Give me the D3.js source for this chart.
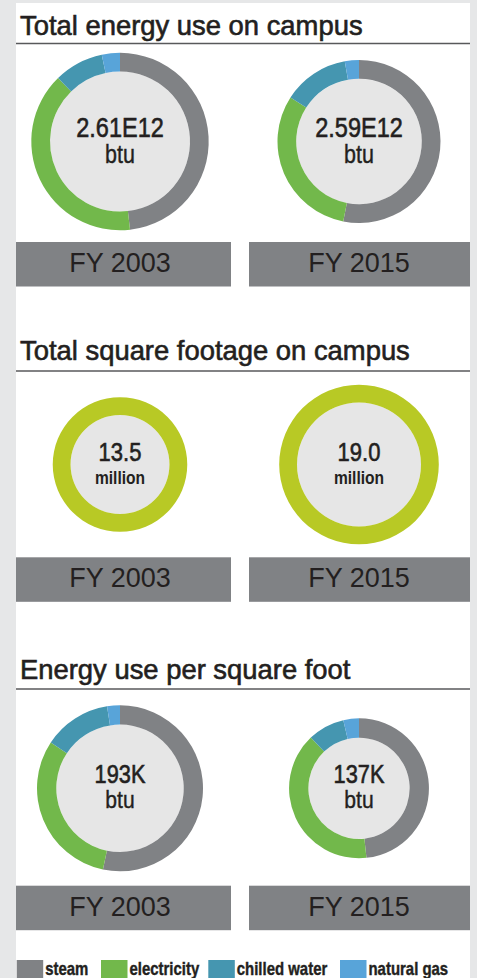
<!DOCTYPE html>
<html>
<head>
<meta charset="utf-8">
<script src="https://cdn.jsdelivr.net/npm/d3@7"></script>
<style>
  body { margin: 0; background: #e6e7e8; }
  svg { display: block; }
</style>
</head>
<body>
<script>
// data
const years = ["FY 2003", "FY 2015"];
const sources = ["steam", "electricity", "chilled water", "natural gas"];
const sourceColors = ["#808285", "#72b84b", "#4596b0", "#58a4d9"];

const energyLabels = ["2.61E12", "2.59E12"];
const energyValues = [2.61e12, 2.59e12];
const energyShares = [[48.2, 39.5, 9.0, 3.3], [53.1, 31.0, 13.1, 2.8]];

const footageLabels = ["13.5", "19.0"];
const footageValues = [13.5, 19.0];

const perFootLabels = ["193K", "137K"];
const perFootValues = [193, 137];
const perFootShares = [[53.3, 31.0, 13.2, 2.5], [48.3, 39.6, 8.5, 3.6]];

const titles = ["Total energy use on campus", "Total square footage on campus", "Energy use per square foot"];

// canvas
const width = 477, height = 978;
const panelLeft = 16, panelRight = 470, panelTop = 3;
const colCenters = [120, 359];
const font = "'Liberation Sans', Arial, sans-serif";
const ink = "#231f20";

const svg = d3.select("body").append("svg")
  .attr("width", width).attr("height", height);

svg.append("rect")
  .attr("x", panelLeft).attr("y", panelTop)
  .attr("width", panelRight - panelLeft).attr("height", height - panelTop)
  .attr("fill", "white");

const pie = d3.pie().sort(null).value(d => d);

// no narrow face installed, so squeeze the regular one
function narrowText(parent, str, x, y, size, squeeze, opts = {}) {
  const t = parent.append("g")
    .attr("transform", `translate(${x},${y}) scale(${squeeze},1)`)
    .append("text")
    .text(str)
    .attr("text-anchor", opts.anchor || "middle")
    .attr("font-family", font)
    .attr("font-weight", opts.bold ? "bold" : "normal")
    .attr("font-size", size + "px")
    .attr("fill", ink);
  if (opts.stroke) t.attr("stroke", ink).attr("stroke-width", opts.stroke);
  return t;
}

//section header: title text and rule
function header(title, baseline, ruleY) {
  svg.append("text")
    .text(title)
    .attr("x", 20).attr("y", baseline)
    .attr("font-family", font)
    .attr("font-size", "27.4px")
    .attr("fill", ink)
    .attr("stroke", ink).attr("stroke-width", 0.6);
  svg.append("line")
    .attr("x1", panelLeft).attr("x2", panelRight)
    .attr("y1", ruleY).attr("y2", ruleY)
    .attr("stroke", "#58595b").attr("stroke-width", 1.3);
}

//grey year bars
function yearBars(top) {
  years.forEach((yr, i) => {
    const x0 = Math.max(panelLeft, colCenters[i] - 110);
    const x1 = Math.min(panelRight, colCenters[i] + 111);
    svg.append("rect")
      .attr("x", x0).attr("y", top)
      .attr("width", x1 - x0).attr("height", 44.5)
      .attr("fill", "#808285");
    svg.append("text")
      .text(yr)
      .attr("x", colCenters[i]).attr("y", top + 30)
      .attr("text-anchor", "middle")
      .attr("font-family", font)
      .attr("font-size", "27px")
      .attr("fill", ink);
  });
}

//ring with centre disc and two lines of text
function ring(cx, cy, r, thick, shares, label, unit, sz) {
  const g = svg.append("g").attr("transform", `translate(${cx},${cy})`);
  g.append("circle").attr("r", r - thick).attr("fill", "#e6e6e6");
  const arc = d3.arc().innerRadius(r - thick).outerRadius(r);
  if (shares) {
    g.selectAll("path")
      .data(pie(shares))
      .enter()
      .append("path")
      .attr("d", arc)
      .attr("fill", (d, i) => sourceColors[i]);
  } else {
    g.append("path")
      .attr("d", arc({startAngle: 0, endAngle: 2 * Math.PI}))
      .attr("fill", "#b8c925");
  }
  narrowText(g, label, 0, sz.numY, sz.num, sz.numSq, {stroke: 0.6});
  narrowText(g, unit, 0, sz.unitY, sz.unit, sz.unitSq, {bold: sz.unitBold, stroke: sz.unitBold ? 0 : 0.4});
}

// section 1: total energy
header(titles[0], 35, 43.5);
const energyR = d3.scaleLinear().domain([2.59e12, 2.61e12]).range([81.5, 88.7]);
energyValues.forEach((v, i) => {
  ring(colCenters[i], 141.5, energyR(v), 18.7, energyShares[i], energyLabels[i], "btu",
    {num: 28, numSq: 0.84, numY: -5, unit: 25, unitSq: 0.86, unitY: 21.5});
});
yearBars(242);

// section 2: square footage
header(titles[1], 360, 371);
const footageR = d3.scaleSqrt().domain([0, 19]).range([0, 79.8]);
footageValues.forEach((v, i) => {
  ring(colCenters[i], 464.5, footageR(v), 17.8, null, footageLabels[i], "million",
    {num: 25, numSq: 0.88, numY: -4, unit: 19, unitSq: 0.82, unitY: 19, unitBold: true});
});
yearBars(557.3);

// section 3: energy per square foot
header(titles[2], 679, 689);
const perFootR = d3.scaleSqrt().domain([0, 193]).range([0, 83]);
perFootValues.forEach((v, i) => {
  ring(colCenters[i], 788.3, perFootR(v), 19.3, perFootShares[i], perFootLabels[i], "btu",
    {num: 25, numSq: 0.87, numY: -5.6, unit: 24, unitSq: 0.88, unitY: 20});
});
yearBars(885.7);

//legend
const legendX = [16.7, 101, 208.3, 340];
sources.forEach((s, i) => {
  svg.append("rect")
    .attr("x", legendX[i]).attr("y", 960)
    .attr("width", 26.5).attr("height", 18)
    .attr("fill", sourceColors[i]);
  narrowText(svg, s, legendX[i] + 28.5, 974.5, 18, 0.83, {bold: true, anchor: "start", stroke: 0.4});
});
</script>
</body>
</html>
